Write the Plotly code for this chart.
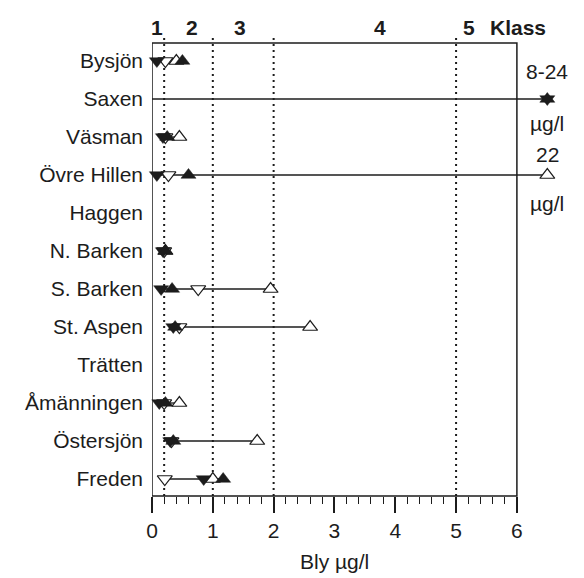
import plotly.graph_objects as go

lakes = ["Bysjön", "Saxen", "Väsman", "Övre Hillen", "Haggen", "N. Barken",
         "S. Barken", "St. Aspen", "Trätten", "Åmänningen", "Östersjön", "Freden"]

# Bly (lead) values, µg/l; None = no value
filled_down = [0.08, 8.0, 0.18, 0.08, None, 0.18, 0.15, 0.35, None, 0.12, 0.30, 0.85]
open_down   = [0.22, None, 0.22, 0.27, None, 0.20, 0.76, 0.45, None, 0.20, 0.32, 0.21]
filled_up   = [0.50, 24.0, 0.25, 0.60, None, 0.22, 0.33, 0.38, None, 0.22, 0.35, 1.17]
open_up     = [0.40, None, 0.45, 22.0, None, 0.22, 1.95, 2.60, None, 0.45, 1.73, 1.00]

# extent of the connecting line per lake
range_lo = [0.08, 0.0, 0.18, 0.08, None, 0.18, 0.15, 0.30, None, 0.12, 0.30, 0.21]
range_hi = [0.50, 24.0, 0.45, 22.0, None, 0.22, 1.95, 2.60, None, 0.45, 1.73, 1.17]

offscale_text = {"Saxen": ("8-24", 28, -24), "Övre Hillen": ("22", 21, -28)}

class_bounds = [0.2, 1, 2, 5]
class_labels = ["1", "2", "3", "4", "5", "Klass"]
class_label_x = [0.08, 0.66, 1.45, 3.75, 5.22, 6.02]

XMAX = 6
OFFSCALE_POS = 6.5

def disp(v):
    if v is None:
        return None
    return OFFSCALE_POS if v > XMAX else v

ypos = list(range(len(lakes)))
FONT = "Liberation Sans, Arial, Helvetica, sans-serif"
INK = "#1c1c1c"
FS = 21

fig = go.Figure()

# connecting lines
for i, (lo, hi) in enumerate(zip(range_lo, range_hi)):
    if lo is None or hi is None:
        continue
    fig.add_trace(go.Scatter(x=[disp(lo), disp(hi)], y=[i, i], mode="lines",
                             line=dict(color=INK, width=1.3), showlegend=False,
                             hoverinfo="skip"))

series = [
    ("open_up", open_up, "triangle-up", "white"),
    ("open_down", open_down, "triangle-down", "white"),
    ("filled_down", filled_down, "triangle-down", INK),
    ("filled_up", filled_up, "triangle-up", INK),
]
for name, vals, sym, fill in series:
    xs = [disp(v) for v in vals]
    if fill == "white":
        marker = dict(symbol=sym, size=13, color="white",
                      line=dict(color=INK, width=1.2))
    else:
        marker = dict(symbol=sym, size=13, color=INK, line=dict(color=INK, width=0.5))
    fig.add_trace(go.Scatter(x=xs, y=ypos, mode="markers", marker=marker,
                             name=name, showlegend=False, cliponaxis=False))

shapes = []
# frame
shapes.append(dict(type="rect", xref="x", yref="paper", x0=0, x1=XMAX, y0=0, y1=1,
                   line=dict(color=INK, width=1.5), layer="above"))
# class boundaries
for b in class_bounds:
    shapes.append(dict(type="line", xref="x", yref="paper", x0=b, x1=b, y0=0, y1=1.02,
                       line=dict(color=INK, width=2, dash="2px,4px"), layer="below"))

annotations = []
for lab, xx in zip(class_labels, class_label_x):
    annotations.append(dict(x=xx, y=1.034, xref="x", yref="paper", text=f"<b>{lab}</b>",
                            showarrow=False, xanchor="center", yanchor="middle",
                            font=dict(size=FS, family=FONT, color=INK)))
for lake, (txt, up, down) in offscale_text.items():
    i = lakes.index(lake)
    annotations.append(dict(x=OFFSCALE_POS, y=i, xref="x", yref="y", text=txt,
                            showarrow=False, yshift=up, xanchor="center",
                            font=dict(size=FS, family=FONT, color=INK)))
    annotations.append(dict(x=OFFSCALE_POS, y=i, xref="x", yref="y", text="µg/l",
                            showarrow=False, yshift=down, xanchor="center",
                            font=dict(size=FS, family=FONT, color=INK)))
annotations.append(dict(x=XMAX / 2, y=-0.145, xref="x", yref="paper", text="Bly µg/l",
                        showarrow=False, xanchor="center", yanchor="middle",
                        font=dict(size=FS, family=FONT, color=INK)))

minor_vals = [round(k * 0.2, 1) for k in range(1, 30) if k % 5 != 0]

fig.update_layout(
    width=584, height=578,
    margin=dict(l=152, r=30, t=43, b=82),
    paper_bgcolor="white", plot_bgcolor="white",
    font=dict(family=FONT, size=FS, color=INK),
    shapes=shapes, annotations=annotations,
    xaxis=dict(range=[0, 6.61], tickvals=list(range(0, XMAX + 1)),
               ticks="outside", ticklen=16, tickwidth=1.5, tickcolor=INK,
               showgrid=False, zeroline=False, showline=False,
               tickfont=dict(size=FS, family=FONT, color=INK),
               minor=dict(tickvals=minor_vals, ticks="outside", ticklen=7,
                          tickwidth=1.2, tickcolor=INK, showgrid=False)),
    yaxis=dict(range=[11.447, -0.474], tickvals=ypos, ticktext=lakes,
               ticks="", showgrid=False, zeroline=False, showline=False,
               ticklabelstandoff=8,
               tickfont=dict(size=FS, family=FONT, color=INK)),
)

fig.write_html("out.html")
